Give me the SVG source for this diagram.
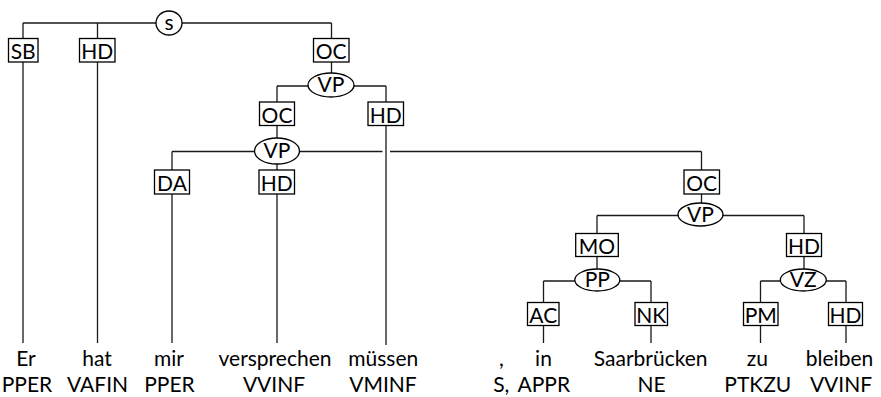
<svg xmlns="http://www.w3.org/2000/svg" width="881" height="397" viewBox="0 0 881 397">
<style>
text{font-family:Lato,"Open Sans","Liberation Sans",sans-serif;font-size:21px;fill:#000;text-anchor:middle}
.b{fill:#fff;stroke:#000;stroke-width:1.3}
.e{fill:#fff;stroke:#000;stroke-width:1.3}
#edges path{fill:none;stroke:#1a1a1a;stroke-width:1.3}
</style>
<rect width="881" height="397" fill="#fff"/>
<g id="edges">
<path d="M23 23H331.5M23 23V38.5M97.5 23V38.5M331.5 23V38.5"/>
<path d="M23 62V343M97.5 62V343"/>
<path d="M331.5 62V73"/>
<path d="M277 86H386M277 86V102M386 86V102"/>
<path d="M277 125.5V138M386 125.5V345"/>
<path d="M172 151.5H382.5M390 151.5H701.5M172 151.5V170M277 164V170M701.5 151.5V170"/>
<path d="M172 194V343M277 194V343"/>
<path d="M701.5 194V203.5"/>
<path d="M597 215.5H804M597 215.5V233.5M804 215.5V233.5"/>
<path d="M597 256.5V269M804 256.5V269"/>
<path d="M543.5 281H651M543.5 281V302.5M651 281V302.5"/>
<path d="M760.5 281H846M760.5 281V302.5M846 281V302.5"/>
<path d="M543.5 325.5V343M651 325.5V343M760.5 325.5V343M846 325.5V343"/>
</g>
<g id="n_s"><ellipse class="e" cx="169" cy="23" rx="13" ry="12"/><text x="169" y="30">s</text></g>
<g id="n_sb"><rect class="b" x="8.5" y="38.5" width="29.5" height="23.5"/><text x="23.2" y="59">SB</text></g>
<g id="n_hd1"><rect class="b" x="79.5" y="38.5" width="35.5" height="23.5"/><text x="97.2" y="59">HD</text></g>
<g id="n_oc1"><rect class="b" x="313.5" y="38.5" width="35.5" height="23.5"/><text x="331.2" y="59">OC</text></g>
<g id="n_vp1"><ellipse class="e" cx="331" cy="85" rx="23" ry="12"/><text x="331" y="92">VP</text></g>
<g id="n_oc2"><rect class="b" x="259.5" y="102" width="35" height="23.5"/><text x="277" y="122.5">OC</text></g>
<g id="n_hd2"><rect class="b" x="368" y="102" width="35.5" height="23.5"/><text x="385.7" y="122.5">HD</text></g>
<g id="n_vp2"><ellipse class="e" cx="277" cy="151" rx="22.5" ry="13"/><text x="277" y="158">VP</text></g>
<g id="n_da"><rect class="b" x="154.5" y="170" width="35" height="24"/><text x="172" y="190.5">DA</text></g>
<g id="n_hd3"><rect class="b" x="259" y="170" width="35.5" height="24"/><text x="276.7" y="190.5">HD</text></g>
<g id="n_oc3"><rect class="b" x="684" y="170" width="35.5" height="24"/><text x="701.7" y="190.5">OC</text></g>
<g id="n_vp3"><ellipse class="e" cx="700.5" cy="214.5" rx="22.5" ry="11.5"/><text x="700.5" y="221.5">VP</text></g>
<g id="n_mo"><rect class="b" x="575.7" y="233.5" width="42.6" height="23"/><text x="597" y="253.5">MO</text></g>
<g id="n_hd4"><rect class="b" x="786.5" y="233.5" width="35" height="23"/><text x="804" y="253.5">HD</text></g>
<g id="n_pp"><ellipse class="e" cx="597.3" cy="280" rx="22.5" ry="11"/><text x="597.3" y="287">PP</text></g>
<g id="n_vz"><ellipse class="e" cx="803.3" cy="280" rx="23" ry="11"/><text x="803.3" y="287">VZ</text></g>
<g id="n_ac"><rect class="b" x="527.5" y="302.5" width="31.5" height="23"/><text x="543.3" y="322.5">AC</text></g>
<g id="n_nk"><rect class="b" x="635" y="302.5" width="32.5" height="23"/><text x="651.2" y="322.5">NK</text></g>
<g id="n_pm"><rect class="b" x="743.5" y="302.5" width="34.5" height="23"/><text x="760.7" y="322.5">PM</text></g>
<g id="n_hd5"><rect class="b" x="828.5" y="302.5" width="34" height="23"/><text x="845.5" y="322.5">HD</text></g>
<g id="w1"><text x="26" y="366">Er</text><text x="27" y="392">PPER</text></g>
<g id="w2"><text x="97" y="366">hat</text><text x="97.5" y="392">VAFIN</text></g>
<g id="w3"><text x="169" y="366">mir</text><text x="169.5" y="392">PPER</text></g>
<g id="w4"><text x="275" y="366">versprechen</text><text x="274" y="392">VVINF</text></g>
<g id="w5"><text x="383.3" y="366">müssen</text><text x="383" y="392">VMINF</text></g>
<g id="w6"><text x="501.5" y="366">,</text><text x="501.3" y="392">S,</text></g>
<g id="w7"><text x="543.5" y="366">in</text><text x="543.8" y="392">APPR</text></g>
<g id="w8"><text x="650.7" y="366">Saarbrücken</text><text x="651.5" y="392">NE</text></g>
<g id="w9"><text x="757.3" y="366">zu</text><text x="757.8" y="392">PTKZU</text></g>
<g id="w10"><text x="839.5" y="366">bleiben</text><text x="841" y="392">VVINF</text></g>
</svg>
